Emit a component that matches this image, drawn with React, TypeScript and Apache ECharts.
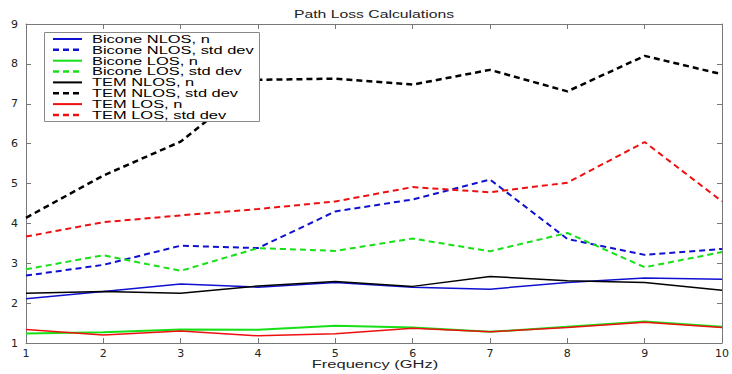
import React, { useEffect, useRef } from "react";
import * as echarts from "echarts";

const frequency = [1, 2, 3, 4, 5, 6, 7, 8, 9, 10];
const biconeNlosN = [2.11, 2.29, 2.48, 2.4, 2.52, 2.4, 2.35, 2.52, 2.63, 2.6];
const biconeNlosStd = [2.69, 2.96, 3.44, 3.38, 4.3, 4.6, 5.1, 3.61, 3.21, 3.36];
const biconeLosN = [1.24, 1.27, 1.34, 1.33, 1.43, 1.39, 1.28, 1.41, 1.54, 1.41];
const biconeLosStd = [2.85, 3.2, 2.81, 3.38, 3.31, 3.62, 3.3, 3.76, 2.9, 3.28];
const temNlosN = [2.25, 2.29, 2.25, 2.43, 2.54, 2.42, 2.67, 2.56, 2.52, 2.32];
const temNlosStd = [4.14, 5.2, 6.05, 7.6, 7.63, 7.48, 7.85, 7.31, 8.2, 7.74];
const temLosN = [1.34, 1.2, 1.3, 1.18, 1.23, 1.37, 1.28, 1.39, 1.52, 1.39];
const temLosStd = [3.67, 4.03, 4.2, 4.36, 4.55, 4.91, 4.78, 5.02, 6.04, 4.55];

const titleText = "Path Loss Calculations";
const xAxisTitle = "Frequency (GHz)";

const seriesDefs = [
  { name: "Bicone NLOS, n", data: biconeNlosN, color: "#1010d0", dashed: false, width: 1.5 },
  { name: "Bicone NLOS, std dev", data: biconeNlosStd, color: "#1010d0", dashed: true, width: 2 },
  { name: "Bicone LOS, n", data: biconeLosN, color: "#18e018", dashed: false, width: 2 },
  { name: "Bicone LOS, std dev", data: biconeLosStd, color: "#18e018", dashed: true, width: 2 },
  { name: "TEM NLOS, n", data: temNlosN, color: "#000000", dashed: false, width: 1.5 },
  { name: "TEM NLOS, std dev", data: temNlosStd, color: "#000000", dashed: true, width: 2.5 },
  { name: "TEM LOS, n", data: temLosN, color: "#ee1010", dashed: false, width: 1.5 },
  { name: "TEM LOS, std dev", data: temLosStd, color: "#ee1010", dashed: true, width: 2 },
];

const FONT = "Liberation Sans, Arial, sans-serif";

export default function App() {
  const ref = useRef<HTMLDivElement>(null);
  useEffect(() => {
    if (!ref.current) return;
    const chart = echarts.init(ref.current, undefined, { renderer: "svg" });
    const axisLine = { show: true, lineStyle: { color: "#777", width: 1 } };
    const axisTick = { show: true, inside: true, length: 5, lineStyle: { color: "#777" } };

    const legendTop = 39;
    const rowGap = 10.85;
    const legendEls: any[] = [
      {
        type: "rect",
        z: 100,
        shape: { x: 44.5, y: 32.5, width: 215, height: 89 },
        style: { fill: "#fff", stroke: "#888", lineWidth: 1 },
      },
    ];
    seriesDefs.forEach((s, i) => {
      const cy = legendTop + i * rowGap;
      legendEls.push({
        type: "line",
        z: 101,
        shape: { x1: 53, y1: cy, x2: 82, y2: cy },
        style: { stroke: s.color, lineWidth: s.dashed ? 2.5 : 2, lineDash: s.dashed ? [6, 4] : null },
      });
      legendEls.push({
        type: "text",
        z: 101,
        x: 92,
        y: cy + 0.5,
        scaleX: 1.37,
        scaleY: 0.84,
        style: {
          text: s.name,
          fontFamily: FONT,
          fontSize: 12,
          fill: "#000",
          textAlign: "left",
          verticalAlign: "middle",
          textVerticalAlign: "middle",
        },
      });
    });

    chart.setOption({
      animation: false,
      backgroundColor: "#ffffff",
      grid: { left: 26, right: 6, top: 24, bottom: 31, containLabel: false },
      graphic: [
        {
          type: "text",
          x: 374,
          y: 14,
          scaleX: 1.5,
          style: {
            text: titleText,
            fontFamily: FONT,
            fontSize: 10.5,
            fill: "#222",
            textAlign: "center",
            verticalAlign: "middle",
            textVerticalAlign: "middle",
          },
        },
        {
          type: "text",
          x: 375,
          y: 364,
          scaleX: 1.5,
          style: {
            text: xAxisTitle,
            fontFamily: FONT,
            fontSize: 11,
            fill: "#222",
            textAlign: "center",
            verticalAlign: "middle",
            textVerticalAlign: "middle",
          },
        },
        ...legendEls,
      ],
      xAxis: [
        {
          type: "value",
          min: 1,
          max: 10,
          interval: 1,
          axisLine,
          axisTick,
          splitLine: { show: false },
          axisLabel: { fontFamily: "DejaVu Sans, sans-serif", fontSize: 11, color: "#222", margin: 5 },
        },
        {
          type: "value",
          position: "top",
          min: 1,
          max: 10,
          interval: 1,
          axisLine,
          axisTick,
          splitLine: { show: false },
          axisLabel: { show: false },
        },
      ],
      yAxis: [
        {
          type: "value",
          min: 1,
          max: 9,
          interval: 1,
          axisLine,
          axisTick,
          splitLine: { show: false },
          axisLabel: { fontFamily: "DejaVu Sans, sans-serif", fontSize: 11, color: "#222", margin: 8 },
        },
        {
          type: "value",
          position: "right",
          min: 1,
          max: 9,
          interval: 1,
          axisLine,
          axisTick,
          splitLine: { show: false },
          axisLabel: { show: false },
        },
      ],
      series: seriesDefs.map((s) => ({
        name: s.name,
        type: "line",
        xAxisIndex: 0,
        yAxisIndex: 0,
        symbol: "none",
        color: s.color,
        lineStyle: { color: s.color, width: s.width, type: s.dashed ? [6, 4] : "solid" },
        data: frequency.map((f, i) => [f, s.data[i]]),
      })),
    });
    return () => chart.dispose();
  }, []);
  return (
    <div
      ref={ref}
      style={{ position: "fixed", left: 0, top: 0, width: 732, height: 374, background: "#fff" }}
    />
  );
}
